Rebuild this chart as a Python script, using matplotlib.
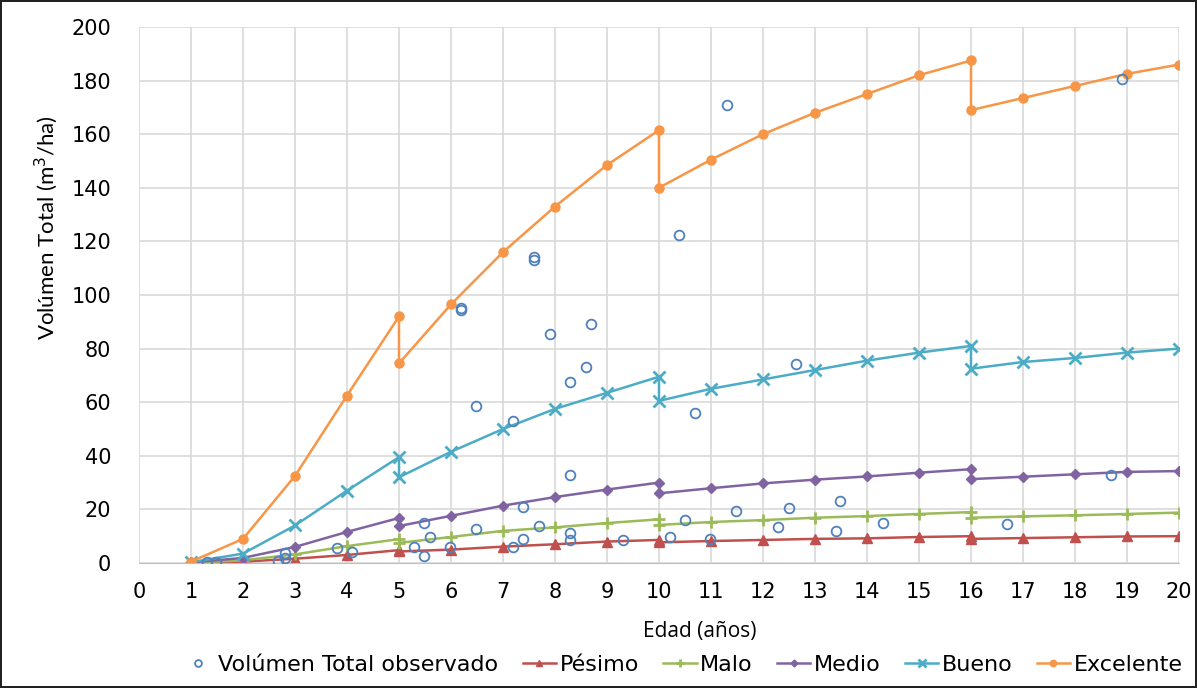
import matplotlib.pyplot as plt

# ages (años); repeated ages are the thinning drops in the yield curves
ages = [1, 2, 3, 4, 5, 5, 6, 7, 8, 9, 10, 10, 11, 12, 13, 14, 15, 16, 16, 17, 18, 19, 20]

pesimo = [0, 0.5, 1.6, 3, 4.8, 4.3, 5, 6.1, 7, 8, 8.6, 7.7, 8.2, 8.6, 9, 9.2, 9.7, 10, 9, 9.3, 9.6, 9.9, 10]
malo = [0.1, 1, 3.2, 6.3, 8.9, 7.5, 9.7, 12, 13.3, 14.9, 16.3, 14.2, 15.3, 16, 16.9, 17.5, 18.3, 19, 16.9, 17.4, 17.8, 18.3, 18.8]
medio = [0.2, 1.9, 6, 11.6, 16.8, 13.8, 17.6, 21.4, 24.6, 27.4, 30, 26, 27.9, 29.7, 31.1, 32.3, 33.7, 35, 31.3, 32.2, 33.1, 34, 34.3]
bueno = [0.3, 3.5, 14, 27, 39.5, 32, 41.5, 50, 57.5, 63.5, 69.5, 60.5, 65, 68.5, 72, 75.5, 78.5, 81, 72.5, 75, 76.5, 78.5, 80]
excelente = [0.5, 9, 32.5, 62.5, 92, 74.5, 96.5, 116, 133, 148.5, 161.5, 140, 150.5, 160, 168, 175, 182, 187.5, 169, 173.5, 178, 182.5, 186]

obs_age = [1.3, 1.49, 2.68, 2.81, 2.81, 3.8, 4.09, 5.29, 5.48, 5.48, 5.6, 5.98, 6.19, 6.19, 6.48, 6.49,
           7.19, 7.19, 7.39, 7.39, 7.59, 7.59, 7.7, 7.9, 8.29, 8.29, 8.29, 8.29, 8.6, 8.69, 9.3, 10.21,
           10.39, 10.5, 10.7, 10.99, 11.3, 11.49, 12.29, 12.5, 12.63, 13.4, 13.49, 14.31, 16.7, 18.69, 18.9]
obs_vol = [0.4, 0.4, 0.9, 3.6, 1.7, 5.7, 4, 6.1, 14.9, 2.7, 9.8, 6, 95, 94.3, 58.6, 12.6,
           53.1, 5.9, 20.8, 9.1, 114, 113, 13.7, 85.4, 67.5, 32.8, 11.3, 8.6, 73, 89, 8.6, 9.8,
           122.4, 16, 55.8, 9.1, 170.9, 19.5, 13.3, 20.6, 74.3, 12, 23, 15, 14.5, 32.8, 180.5]

fig = plt.figure(figsize=(11.97, 6.88), dpi=100, linewidth=1.5, edgecolor='#222222')
ax = fig.add_axes([139 / 1197, 1 - 563 / 688, 1040 / 1197, 536 / 688])

ax.plot(obs_age, obs_vol, 'o', ls='none', mfc='none', mec='#4F81BD', ms=7, mew=1.3,
        label='Volúmen Total observado', zorder=5)
ax.plot(ages, pesimo, '-^', color='#C0504D', lw=1.8, ms=7, label='Pésimo')
ax.plot(ages, malo, '-+', color='#9BBB59', lw=1.8, ms=9, mew=2, label='Malo')
ax.plot(ages, medio, '-D', color='#8064A2', lw=1.8, ms=5, label='Medio')
ax.plot(ages, bueno, '-x', color='#4BACC6', lw=1.8, ms=8, mew=2, label='Bueno')
ax.plot(ages, excelente, '-o', color='#F79646', lw=1.8, ms=6.5, label='Excelente')

ax.set_xlim(0, 20)
ax.set_ylim(0, 200)
ax.set_xticks(range(0, 21))
ax.set_yticks(range(0, 201, 20))
ax.grid(True, color='#d9d9d9', lw=1.2)
ax.set_axisbelow(True)
for s in ['top', 'right', 'left']:
    ax.spines[s].set_visible(False)
ax.spines['bottom'].set_color('#bfbfbf')
ax.tick_params(axis='y', length=0, pad=20, labelsize=15)
ax.tick_params(axis='x', length=0, pad=14, labelsize=15)

fig.text(46 / 1197, 1 - 228 / 688, 'Volúmen Total (m$^3$/ha)', rotation=90,
         ha='center', va='center', fontsize=16,
         family=['Liberation Sans Narrow', 'Lato'])
fig.text(700 / 1197, 1 - 631 / 688, 'Edad (años)', ha='center', va='center',
         fontsize=15, family='Open Sans')

handles, labels = ax.get_legend_handles_labels()
fig.legend(handles, labels, loc='center', bbox_to_anchor=(682 / 1197, 1 - 665 / 688), ncol=6,
           frameon=False, handlelength=1.5, handletextpad=0.15, columnspacing=1.1,
           markerscale=0.7, prop={'family': 'DejaVu Sans', 'size': 16})

fig.savefig('out.png', dpi=100)
